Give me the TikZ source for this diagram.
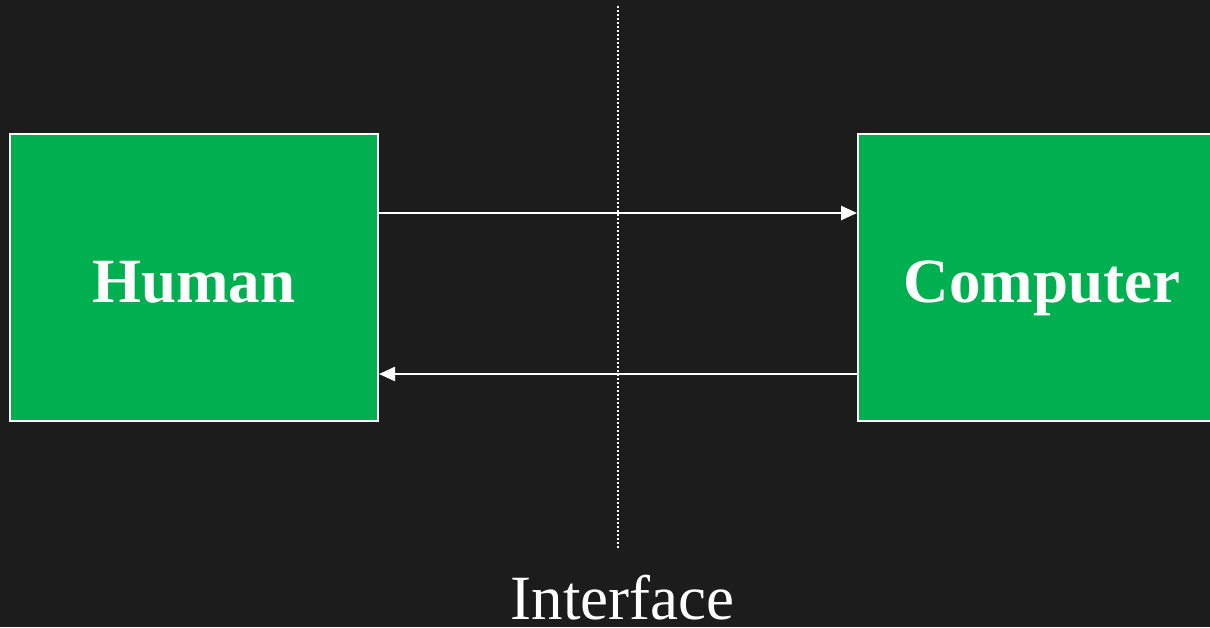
\documentclass[tikz,border=0pt]{standalone}
\usepackage{fontspec}
\setmainfont{Liberation Serif}
\usetikzlibrary{arrows.meta}
\definecolor{bgdark}{RGB}{28,28,28}
\definecolor{boxgreen}{RGB}{0,176,80}
\tikzset{
  agent/.style={draw=white, line width=2pt, fill=boxgreen, minimum width=368pt, minimum height=287pt,
    inner sep=0pt, text height=49pt, text depth=0pt, text=white, font=\fontsize{63}{70}\selectfont\bfseries},
  flow/.style={draw=white, line width=2.4pt, -{Triangle[length=16pt,width=14pt]}},
  divider/.style={draw=white, line width=2pt, dash pattern=on 2pt off 2pt},
  caption/.style={text=white, font=\fontsize{63}{70}\selectfont, inner sep=0pt, text depth=0pt, anchor=base}
}
\begin{document}
\begin{tikzpicture}[x=1pt,y=-1pt]
\fill[bgdark] (0,0) rectangle (1210,627);
\useasboundingbox (0,0) rectangle (1210,627);
\node[agent] (h) at (194,277.5) {Human};
\node[agent] (c) at (1042,277.5) {Computer};
\draw[flow] ([yshift=64.5pt]h.east) -- ([yshift=64.5pt]c.west);
\draw[flow] ([yshift=-96.5pt]c.west) -- ([yshift=-96.5pt]h.east);
\node[caption] (i) at (622.5,619) {Interface};
\coordinate (dtop) at (618,6);
\coordinate (dbot) at (618,548);
\draw[divider] (dtop) -- (dbot);
\end{tikzpicture}
\end{document}
